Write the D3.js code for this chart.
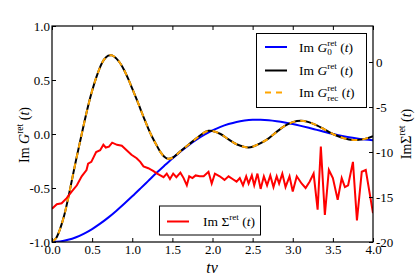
<!DOCTYPE html>
<html><head><meta charset="utf-8">
<script src="https://cdn.jsdelivr.net/npm/d3@7"></script>
<style>
html,body{margin:0;padding:0;background:#fff;}
</style></head>
<body><svg id="c" width="415" height="277"></svg>
<script>
// ---- data ----
const xTicks = [0,0.5,1,1.5,2,2.5,3,3.5,4];
const xTickLabels = ["0.0","0.5","1.0","1.5","2.0","2.5","3.0","3.5","4.0"];
const yLeftTicks = [-1,-0.5,0,0.5,1];
const yLeftTickLabels = ["-1.0","-0.5","0.0","0.5","1.0"];
const yRightTicks = [-20,-15,-10,-5,0];
const yRightTickLabels = ["-20","-15","-10","-5","0"];

const g0T = [0,0.1,0.2,0.3,0.4,0.5,0.6,0.7,0.8,0.9,1.0,1.1,1.2,1.3,1.4,1.5,1.6,1.7,1.8,1.9,2.0,2.1,2.2,2.3,2.4,2.5,2.6,2.7,2.8,2.9,3.0,3.1,3.2,3.3,3.4,3.5,3.6,3.7,3.8,3.9,4.0];
const g0V = [-1,-0.995,-0.98,-0.956,-0.922,-0.88,-0.83,-0.774,-0.712,-0.646,-0.577,-0.506,-0.434,-0.362,-0.293,-0.226,-0.163,-0.105,-0.053,-0.007,0.033,0.066,0.092,0.112,0.124,0.131,0.132,0.128,0.119,0.107,0.092,0.075,0.057,0.038,0.019,0.001,-0.015,-0.030,-0.042,-0.052,-0.059];

const gT = [0,0.05,0.1,0.15,0.2,0.25,0.3,0.35,0.4,0.45,0.5,0.55,0.6,0.65,0.7,0.75,0.8,0.85,0.9,0.95,1.0,1.05,1.1,1.15,1.2,1.25,1.3,1.35,1.4,1.45,1.5,1.6,1.7,1.8,1.9,1.95,2.0,2.1,2.2,2.3,2.4,2.45,2.5,2.6,2.7,2.8,2.9,3.0,3.1,3.2,3.3,3.4,3.5,3.6,3.7,3.8,3.9,4.0];
const gV = [-1.0,-0.965,-0.88,-0.76,-0.6,-0.42,-0.24,-0.07,0.10,0.26,0.40,0.52,0.62,0.69,0.725,0.728,0.70,0.655,0.59,0.51,0.42,0.33,0.235,0.14,0.05,-0.03,-0.10,-0.165,-0.21,-0.23,-0.22,-0.16,-0.10,-0.04,0.015,0.03,0.028,0.0,-0.05,-0.095,-0.12,-0.124,-0.118,-0.085,-0.04,0.02,0.075,0.11,0.122,0.11,0.08,0.04,0.0,-0.03,-0.05,-0.056,-0.045,-0.02];
const gRecV = gV.slice();

const sT = [0,0.06,0.12,0.18,0.245,0.31,0.37,0.43,0.45,0.49,0.55,0.6,0.64,0.67,0.71,0.75,0.81,0.87,0.93,0.99,1.055,1.10,1.14,1.2,1.26,1.31,1.35,1.39,1.43,1.47,1.51,1.55,1.6,1.64,1.68,1.71,1.75,1.79,1.84,1.89,1.95,1.99,2.03,2.09,2.15,2.20,2.25,2.30,2.34,2.38,2.42,2.45,2.49,2.52,2.56,2.60,2.64,2.68,2.72,2.76,2.80,2.83,2.87,2.91,2.96,3.0,3.05,3.11,3.16,3.21,3.26,3.31,3.35,3.40,3.45,3.50,3.56,3.61,3.65,3.69,3.75,3.80,3.86,3.91,4.0];
const sV = [-16.3,-15.8,-15.7,-15.15,-14.4,-13.7,-12.7,-12.0,-11.3,-11.1,-10.0,-9.8,-9.2,-9.5,-9.4,-8.96,-9.2,-9.3,-9.8,-10.3,-10.7,-11.1,-11.6,-11.8,-12.1,-12.4,-12.6,-12.8,-12.4,-13.0,-12.4,-12.8,-12.3,-12.9,-13.7,-12.7,-12.9,-12.6,-12.7,-12.7,-12.2,-13.5,-12.4,-12.7,-13.1,-12.7,-13.0,-13.3,-12.9,-13.7,-12.7,-13.5,-12.6,-13.7,-12.4,-14.1,-12.7,-13.7,-12.6,-13.9,-12.7,-13.5,-12.4,-13.9,-12.7,-14.4,-12.7,-13.5,-14.0,-13.3,-12.4,-16.4,-9.4,-17.0,-12.0,-12.9,-15.3,-12.9,-13.9,-13.7,-11.1,-17.6,-12.2,-12.0,-16.8];

// ---- layout ----
const FONT = '"Liberation Serif"';
const L=52,R=373,T=26,B=242;
const x = d3.scaleLinear().domain([0,4]).range([L,R]);
const yL = d3.scaleLinear().domain([-1,1]).range([B,T]);
const yR = d3.scaleLinear().domain([-20,4]).range([B,T]);
const svg = d3.select("#c");
svg.append("rect").attr("width",415).attr("height",277).attr("fill","#fff");

svg.append("clipPath").attr("id","clip").append("rect")
  .attr("x",L).attr("y",T).attr("width",R-L).attr("height",B-T);

const zip = (a,b)=>a.map((v,i)=>[v,b[i]]);
const lineL = d3.line().x(d=>x(d[0])).y(d=>yL(d[1])).curve(d3.curveCatmullRom.alpha(0.5));
const lineR = d3.line().x(d=>x(d[0])).y(d=>yR(d[1]));

const plot = svg.append("g").attr("clip-path","url(#clip)");
plot.append("path").attr("d",lineL(zip(g0T,g0V))).attr("fill","none").attr("stroke","#0000ff").attr("stroke-width",2);
plot.append("path").attr("d",lineL(zip(gT,gV))).attr("fill","none").attr("stroke","#000").attr("stroke-width",2);
plot.append("path").attr("d",lineL(zip(gT,gRecV))).attr("fill","none").attr("stroke","#ffa500").attr("stroke-width",2).attr("stroke-dasharray","6,5");
plot.append("path").attr("d",lineR(zip(sT,sV))).attr("fill","none").attr("stroke","#ff0000").attr("stroke-width",2).attr("stroke-linejoin","miter");

// ---- axes ----
function styleAxis(g){
  g.attr("font-family",null);
  g.select(".domain").remove();
  g.selectAll(".tick line").attr("stroke","#000").attr("stroke-width",1);
  g.selectAll(".tick text").style("font-size","13px").style("font-family",FONT).attr("fill","#000");
}
svg.append("g").attr("transform",`translate(0,${B})`)
  .call(d3.axisBottom(x).tickValues(xTicks).tickFormat((d,i)=>xTickLabels[i]).tickSize(-4).tickPadding(3)).call(styleAxis);
svg.append("g").attr("transform",`translate(0,${T})`)
  .call(d3.axisTop(x).tickValues(xTicks).tickFormat("").tickSize(-4)).call(styleAxis);
svg.append("g").attr("transform",`translate(${L},0)`)
  .call(d3.axisLeft(yL).tickValues(yLeftTicks).tickFormat((d,i)=>yLeftTickLabels[i]).tickSize(-4).tickPadding(2)).call(styleAxis);
svg.append("g").attr("transform",`translate(${R},0)`)
  .call(d3.axisRight(yR).tickValues(yRightTicks).tickFormat((d,i)=>yRightTickLabels[i]).tickSize(-4).tickPadding(3)).call(styleAxis);

svg.append("rect").attr("x",L).attr("y",T).attr("width",R-L).attr("height",B-T)
  .attr("fill","none").attr("stroke","#000").attr("stroke-width",1.2);

// ---- rich text helper ----
function rich(g, parts, fs){
  let cx = 0;
  const mk = (tx, ty, size, str, it) => g.append("text").attr("x",tx).attr("y",ty)
      .style("font-size",size+"px").style("font-family",FONT)
      .style("font-style",it?"italic":"normal").attr("fill","#000").text(str);
  for (const p of parts){
    if (p.supsub){
      const s1 = mk(cx,-0.42*fs,0.68*fs,p.supsub[0],false);
      const s2 = mk(cx,0.27*fs,0.68*fs,p.supsub[1],false);
      cx += Math.max(s1.node().getComputedTextLength(), s2.node().getComputedTextLength()) + 0.25*fs;
    } else if (p.sup){
      const s = mk(cx,-0.42*fs,0.68*fs,p.sup,false);
      cx += s.node().getComputedTextLength() + 0.25*fs;
    } else {
      const s = mk(cx,0,fs,p.s,p.it);
      cx += s.node().getComputedTextLength() + (p.gap||0)*fs;
    }
  }
  return cx;
}
function richAt(parent, tx, ty, rot, parts, fs, anchor){
  const g = parent.append("g");
  const inner = g.append("g");
  const w = rich(inner, parts, fs);
  const off = anchor==="middle" ? -w/2 : 0;
  inner.attr("transform",`translate(${off},0)`);
  g.attr("transform",`translate(${tx},${ty}) rotate(${rot})`);
  return w;
}

// axis labels
richAt(svg, 212, 273, 0, [{s:"t",it:true},{s:"v",it:true}], 16, "middle");
richAt(svg, 29, 135, -90, [{s:"Im",gap:0.25},{s:"G",it:true},{sup:"ret"},{s:"(",},{s:"t",it:true},{s:")"}], 14, "middle");
richAt(svg, 411, 134, -90, [{s:"Im"},{s:"Σ"},{sup:"ret"},{s:"(",},{s:"t",it:true},{s:")"}], 14, "middle");

// ---- legends ----
svg.append("rect").attr("x",256.5).attr("y",33.5).attr("width",110).attr("height",74)
  .attr("fill","#fff").attr("stroke","#000").attr("stroke-width",1);
const legRows = [
  {color:"#0000ff", dash:null, y:47, parts:[{s:"Im",gap:0.25},{s:"G",it:true},{supsub:["ret","0"]},{s:"("},{s:"t",it:true},{s:")"}]},
  {color:"#000", dash:null, y:70.5, parts:[{s:"Im",gap:0.25},{s:"G",it:true},{sup:"ret"},{s:"("},{s:"t",it:true},{s:")"}]},
  {color:"#ffa500", dash:"6,5", y:92.5, parts:[{s:"Im",gap:0.25},{s:"G",it:true},{supsub:["ret","rec"]},{s:"("},{s:"t",it:true},{s:")"}]}
];
legRows.forEach(r=>{
  const ln = svg.append("line").attr("x1",265).attr("x2",287).attr("y1",r.y).attr("y2",r.y)
    .attr("stroke",r.color).attr("stroke-width",2);
  if (r.dash) ln.attr("stroke-dasharray",r.dash);
  richAt(svg, 299, r.y+4.5, 0, r.parts, 13.5, "start");
});

svg.append("rect").attr("x",159.5).attr("y",206).attr("width",101).attr("height",29)
  .attr("fill","#fff").attr("stroke","#000").attr("stroke-width",1);
svg.append("line").attr("x1",167).attr("x2",189).attr("y1",221.5).attr("y2",221.5)
  .attr("stroke","#ff0000").attr("stroke-width",2);
richAt(svg, 203, 226, 0, [{s:"Im",gap:0.25},{s:"Σ"},{sup:"ret"},{s:"("},{s:"t",it:true},{s:")"}], 13.5, "start");
</script></body></html>
